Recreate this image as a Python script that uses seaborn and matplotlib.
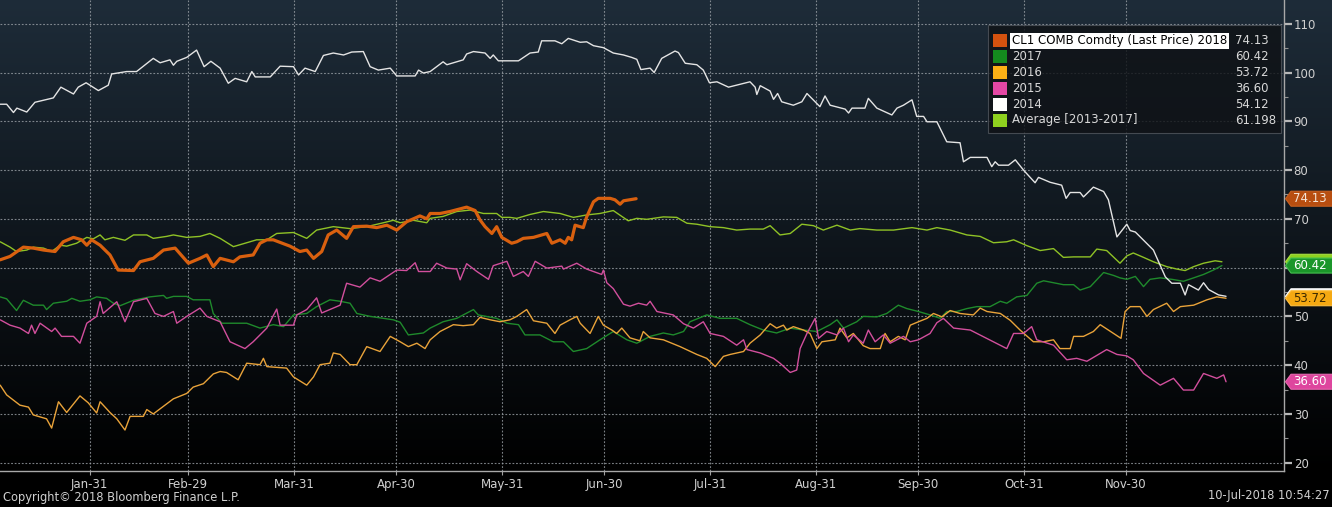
import numpy as np
import pandas as pd
import matplotlib
matplotlib.use("Agg")
import matplotlib.pyplot as plt
import matplotlib.dates as mdates
from matplotlib.ticker import MultipleLocator
from matplotlib.patches import Rectangle, Polygon
from matplotlib.transforms import blended_transform_factory
import seaborn as sns

# ---------------- data (day of year, leap-year calendar; price) ----------------
days_2018 = [4.8, 7.7, 11.6, 14.5, 17.5, 20.9, 23.3, 26.3, 28.7, 30.2, 31.6, 34.1, 37.0, 39.4, 43.9,
             45.8, 49.7, 52.7, 56.1, 60.0, 63.4, 65.4, 67.3, 69.3, 73.2, 75.1, 79.0, 81.0, 83.0, 84.9,
             87.9, 89.8, 92.7, 94.7, 96.7, 99.1, 101.0, 103.5, 106.4, 108.4, 112.3, 115.2, 118.2, 121.1,
             124.0, 127.9, 129.9, 130.9, 133.8, 136.7, 141.6, 144.1, 145.5, 147.0, 149.0, 150.4, 151.9,
             154.8, 156.3, 158.2, 161.2, 165.1, 166.6, 169.0, 170.5, 171.4, 172.4, 173.4, 175.8, 176.8,
             178.8, 180.2, 183.7, 185.1, 186.6, 187.6, 191.3]
vals_2018 = [61.6, 62.3, 64.2, 64.0, 63.6, 63.3, 65.3, 66.2, 65.7, 64.6, 65.7, 64.6, 62.6, 59.5, 59.4,
             61.2, 61.9, 63.6, 64.0, 60.9, 61.9, 62.6, 60.2, 61.9, 61.2, 62.2, 62.6, 65.0, 65.7, 65.7,
             64.9, 64.4, 63.3, 63.6, 61.9, 63.3, 66.7, 67.7, 66.0, 68.4, 68.5, 68.2, 68.7, 67.7,
             69.4, 70.6, 70.0, 71.1, 71.1, 71.5, 72.4, 71.7, 69.8, 68.4, 67.0, 68.4, 66.2,
             65.0, 65.3, 66.0, 66.2, 67.0, 65.0, 65.7, 65.0, 66.2, 65.7, 68.7, 68.2, 70.4,
             73.5, 74.2, 74.2, 73.9, 73.0, 73.7, 74.13]

days_2017 = [4.8, 6.7, 9.6, 11.6, 14.5, 17.5, 18.4, 20.4, 24.3, 25.8, 28.2, 31.1, 33.1, 36.0, 38.0,
             40.0, 43.9, 48.7, 52.7, 53.6, 55.6, 59.5, 61.4, 66.3, 67.3, 69.8, 73.2, 77.1, 81.0, 84.9,
             87.9, 90.8, 94.7, 97.6, 101.5, 104.5, 107.4, 109.4, 113.3, 117.2, 120.1, 122.1, 124.5, 128.9,
             130.9, 134.7, 138.7, 140.6, 143.6, 145.0, 150.4, 153.4, 156.8, 158.7, 163.1, 167.0, 170.0,
             172.9, 176.8, 180.7, 184.6, 188.6, 191.5, 195.4, 199.3, 202.2, 205.2, 207.1, 212.0, 215.9,
             220.8, 224.7, 228.6, 232.5, 236.5, 240.4, 244.3, 248.2, 250.2, 252.1, 256.0,
             257.9, 261.9, 264.8, 268.2, 270.7, 274.1, 277.5, 280.5, 282.4, 285.3, 288.3, 291.2, 295.1,
             298.1, 300.0, 302.9, 305.9, 308.8, 310.8, 313.7, 316.6, 319.6, 321.5, 324.5, 328.4, 331.3,
             333.2, 335.2, 337.7, 340.1, 342.0, 345.0, 348.4, 351.8, 354.8, 357.7, 360.6, 363.1]
vals_2017 = [54.0, 53.6, 51.2, 53.3, 52.3, 52.3, 51.4, 52.7, 53.1, 53.7, 53.1, 53.4, 54.0, 53.7, 52.7,
             52.2, 53.3, 54.0, 54.3, 53.7, 54.1, 54.1, 53.4, 53.4, 50.6, 48.6, 48.6, 48.6, 47.6, 48.3,
             47.9, 50.3, 50.6, 52.0, 53.4, 53.1, 52.7, 50.6, 50.0, 49.6, 49.3, 48.8, 46.2, 46.6,
             47.6, 48.9, 49.6, 50.3, 51.4, 50.3, 49.6, 48.6, 48.3, 46.2, 46.2, 44.8, 44.8,
             42.8, 43.4, 45.2, 46.9, 45.2, 44.5, 45.9, 46.6, 46.2, 46.9, 48.9, 50.3, 49.6,
             49.6, 48.3, 47.2, 46.6, 47.6, 47.2, 46.9, 48.3, 49.3, 47.6, 48.9,
             50.0, 49.9, 50.6, 52.3, 51.6, 51.0, 50.3, 49.6, 51.0, 51.0, 51.6, 52.0, 52.0,
             53.1, 52.7, 54.0, 54.3, 56.8, 57.3, 56.9, 56.5, 56.5, 55.4, 56.1, 59.0, 58.4,
             57.9, 57.6, 58.2, 56.1, 57.6, 57.9, 57.6, 57.2, 57.9, 58.6, 59.5, 60.42]

days_2016 = [4.8, 6.7, 10.6, 13.1, 14.5, 18.4, 19.9, 21.9, 24.3, 28.2, 30.6, 33.1, 34.1, 37.0, 39.0,
             41.4, 42.9, 46.8, 47.8, 49.7, 55.6, 59.5, 61.4, 64.4, 67.3, 69.3, 71.2, 74.6, 77.1, 81.0,
             82.0, 83.0, 88.8, 90.8, 94.7, 96.7, 98.6, 101.5, 102.5, 104.5, 107.4, 109.4, 112.3, 116.2,
             119.2, 122.1, 124.5, 127.0, 129.4,
             130.9, 133.8, 137.7, 140.6, 143.6, 145.5, 148.5, 151.4, 154.3, 156.3, 159.2, 161.2, 165.1,
             167.5, 169.0, 171.9, 173.9, 174.9, 177.8, 180.2, 181.7, 184.2, 185.6, 187.1, 189.5, 192.4,
             193.4, 195.4, 199.3, 204.2, 209.1, 212.0, 214.5, 216.9, 218.9, 222.8, 224.7, 227.7, 230.6,
             232.5, 234.5, 235.5, 237.4, 240.4, 242.3, 244.3, 245.8, 249.7, 251.1, 253.1, 255.0,
             257.9, 259.9, 262.9, 264.3, 265.8, 268.2, 270.2, 271.7, 274.1, 276.6, 278.5, 281.0, 283.4,
             286.3, 290.2, 292.2, 294.2, 298.1, 301.0, 303.9, 307.8, 310.8, 313.7, 315.6, 318.6, 319.6,
             322.5, 325.4, 327.4, 331.3, 333.5, 334.7, 336.2, 339.1, 341.1, 343.0, 346.9, 348.9, 350.9,
             354.8, 358.7, 361.6, 364.3]
vals_2016 = [35.9, 33.9, 31.8, 31.4, 29.8, 29.0, 27.1, 32.5, 30.3, 33.7, 32.3, 30.2, 32.5, 30.3, 29.0,
             26.7, 29.5, 29.5, 30.9, 30.0, 33.1, 34.2, 35.5, 36.2, 38.2, 38.7, 38.5, 37.0, 40.4, 40.1,
             41.4, 39.7, 39.4, 37.6, 35.9, 37.6, 40.1, 40.4, 42.5, 42.2, 40.1, 40.1, 43.8, 42.8,
             45.9, 44.8, 43.8, 44.5, 43.4,
             45.2, 46.9, 48.3, 48.1, 48.3, 49.8, 49.3, 48.9, 49.3, 50.0, 51.4, 49.1, 48.6,
             46.5, 48.2, 49.3, 50.0, 48.6, 46.5, 50.0, 48.2, 47.2, 46.5, 47.6, 45.6, 45.0,
             46.9, 45.6, 45.2, 43.8, 42.2, 41.4, 39.7, 41.8, 42.2, 42.8, 44.5, 46.2, 48.5,
             47.6, 48.2, 47.2, 47.9, 47.2, 46.5, 43.4, 44.8, 45.2, 47.6, 45.6, 46.5,
             44.0, 43.4, 43.4, 46.5, 44.8, 45.9, 45.2, 48.2, 48.9, 49.6, 50.6, 49.9, 51.2,
             50.6, 50.3, 51.7, 51.0, 50.6, 49.2, 47.2, 44.8, 44.8, 45.2, 43.4, 43.4, 45.9,
             45.9, 46.9, 48.3, 46.5, 45.5, 51.0, 52.0, 52.0, 50.0, 51.4, 52.7, 51.0, 52.0,
             52.3, 53.4, 54.0, 53.72]

days_2015 = [4.8, 7.7, 10.6, 13.1, 14.0, 15.0, 16.5, 19.9, 20.9, 22.8, 26.3, 28.2, 30.2, 33.1, 34.1,
             35.0, 39.0, 41.4, 43.9, 47.8, 50.2, 52.7, 55.6, 56.6, 59.5, 63.4, 65.4, 69.3, 72.2, 76.6,
             79.0, 83.0, 85.9, 86.9, 90.8, 91.8, 94.7, 97.6, 99.1, 104.5, 106.4, 110.3, 113.3, 116.2,
             121.1, 124.0, 126.5, 127.5,
             130.9, 132.8, 135.8, 138.7, 139.7, 141.6, 144.6, 148.0, 149.4, 153.4, 155.3, 158.2, 159.7,
             161.7, 165.1, 169.5, 170.0, 173.9, 176.8, 181.2, 181.7, 182.7, 184.6, 187.6, 189.5, 192.0,
             194.4, 195.4, 197.4, 202.2, 205.2, 208.1, 211.0, 213.0, 216.9, 220.8, 222.8, 223.8, 227.7,
             231.6, 233.5, 236.5, 238.4, 239.4, 241.4, 243.8, 244.8, 247.2, 250.2, 252.1, 253.6, 255.0,
             257.9, 259.4, 261.4, 263.8, 265.8, 269.7, 271.7, 274.1, 277.5, 279.5, 281.4, 284.4, 289.3,
             296.1, 300.0, 302.0, 304.9, 307.3, 308.8, 313.7, 317.6, 320.5, 323.5, 329.3, 332.3, 335.2,
             337.1, 340.1, 345.0, 348.9, 351.8, 354.8, 357.7, 361.6, 363.6, 364.3]
vals_2015 = [49.3, 48.2, 47.6, 46.5, 48.2, 46.5, 48.6, 46.9, 47.6, 45.9, 45.9, 44.5, 48.6, 50.0, 53.0,
             50.6, 53.0, 48.9, 53.0, 53.7, 50.6, 50.0, 51.0, 48.6, 50.0, 51.7, 50.0, 48.9, 44.8, 43.4,
             44.8, 47.6, 51.5, 48.2, 48.2, 50.3, 51.4, 53.8, 50.7, 52.3, 56.8, 56.0, 57.9, 57.2,
             59.5, 59.4, 61.0, 59.2,
             59.2, 60.9, 59.9, 59.7, 57.5, 60.8, 59.2, 57.6, 60.4, 61.3, 58.2, 59.2, 58.2,
             61.3, 59.9, 60.3, 59.7, 60.9, 59.7, 58.6, 59.5, 56.9, 55.7, 52.5, 52.1, 52.7,
             52.3, 53.1, 51.0, 50.3, 48.5, 47.6, 48.9, 46.5, 45.9, 44.1, 45.2, 43.2, 42.5,
             41.4, 40.4, 38.5, 39.0, 43.4, 46.5, 49.6, 45.5, 46.9, 46.2, 47.6, 44.8, 46.2,
             44.5, 47.2, 44.8, 46.2, 44.5, 45.9, 44.8, 45.2, 46.5, 48.7, 49.6, 47.6, 47.2,
             44.8, 43.4, 46.5, 46.5, 47.9, 45.2, 44.1, 41.1, 41.4, 40.8, 43.2, 42.2, 41.9,
             41.1, 38.3, 35.9, 37.3, 34.9, 34.9, 38.3, 37.3, 38.0, 36.6]

days_2014 = [4.8, 6.7, 8.7, 9.7, 12.6, 15.0, 20.4, 22.6, 26.3, 27.7, 30.0, 33.6, 36.5, 37.5, 41.9,
             44.8, 49.7, 51.7, 54.6, 55.6, 56.6, 59.5, 62.4, 64.6, 66.6, 69.3, 71.7, 73.7, 77.1, 78.6,
             79.6, 84.0, 86.9, 90.8, 92.3, 94.2, 97.2, 99.6, 102.5, 105.5, 107.9, 111.3, 113.3, 115.7,
             119.2, 121.1, 126.5, 127.5, 128.9,
             130.9, 134.7, 135.8, 140.6, 141.6, 143.6, 147.0, 148.5, 149.4, 150.9, 156.8, 160.2, 162.6,
             163.6, 167.5, 169.5, 171.4, 174.9, 176.8, 178.8, 181.7, 184.6, 187.6, 190.0, 191.5, 192.7,
             195.4, 196.6, 198.8, 202.7, 203.7, 205.7, 209.1, 211.0, 212.8, 215.0, 218.4, 224.7, 226.2,
             226.7, 227.7, 230.6, 231.6, 232.8, 234.0, 237.4, 239.9, 241.4, 245.2, 246.7, 248.2, 252.6,
             253.6, 254.6,
             256.9, 258.4, 259.4, 261.9, 266.3, 267.8, 269.7, 272.2, 273.6, 275.6, 276.6, 279.5, 282.4,
             286.3, 287.3, 289.3, 294.2, 295.6, 296.6, 297.6, 300.5, 302.5, 304.9, 308.3, 309.3, 312.7,
             316.1, 317.4, 318.6, 321.5, 322.5, 325.4, 328.4, 329.8, 332.3, 335.2, 336.2, 337.7, 343.0,
             346.5, 348.4, 350.9, 352.3, 353.3, 356.2, 357.7, 359.2, 362.1, 364.3]
vals_2014 = [93.5, 93.5, 91.8, 92.7, 91.9, 93.9, 94.8, 97.0, 95.6, 97.0, 97.9, 96.3, 97.4, 99.7, 100.2,
             100.2, 102.9, 102.0, 102.6, 101.5, 102.3, 103.1, 104.6, 101.2, 102.3, 100.9, 97.8, 98.8, 98.1, 100.2,
             99.1, 99.1, 101.3, 101.2, 99.5, 100.9, 100.2, 103.5, 104.0, 103.6, 104.2, 104.3, 101.2, 100.5,
             100.9, 99.3, 99.3, 100.5, 99.9,
             100.2, 102.2, 101.6, 102.6, 103.8, 104.3, 104.0, 102.9, 103.6, 102.4, 102.4, 104.0, 104.2,
             106.5, 106.5, 105.9, 107.0, 106.2, 106.3, 105.5, 105.1, 104.0, 103.6, 103.1, 102.7, 100.6,
             100.9, 100.0, 102.9, 104.4, 104.1, 101.9, 101.6, 100.5, 97.9, 98.1, 97.0, 98.1, 97.0,
             95.5, 97.3, 96.2, 94.5, 95.7, 94.0, 93.3, 94.0, 95.7, 93.0, 95.2, 93.3, 92.5,
             91.7, 92.7,
             92.7, 92.7, 94.7, 92.7, 91.3, 92.7, 93.3, 94.4, 91.0, 91.0, 89.9, 89.9, 85.8,
             85.6, 81.7, 82.6, 82.6, 80.7, 81.7, 81.0, 81.0, 82.1, 80.0, 77.4, 78.5, 77.5,
             76.9, 74.2, 75.4, 75.4, 74.5, 76.5, 75.6, 73.9, 66.3, 68.9, 67.6, 67.3, 63.6,
             58.1, 56.8, 56.8, 54.4, 56.5, 55.4, 56.9, 55.5, 54.4, 54.12]

days_avg = [4.8, 7.7, 9.6, 12.6, 14.5, 17.5, 19.9, 22.4, 24.3, 27.2, 30.2, 32.1, 34.1, 35.5, 38.0,
            41.4, 43.9, 47.8, 49.7, 53.6, 55.6, 59.5, 63.4, 66.3, 69.3, 73.2, 77.1, 80.0, 83.0, 85.9,
            90.8, 94.7, 97.6, 102.5, 107.4, 112.3, 117.2, 120.1, 122.1, 126.0, 129.9,
            130.9, 134.7, 138.7, 142.6, 146.5, 150.4, 151.9, 154.3, 156.3, 160.2, 164.1, 169.0, 172.9,
            176.8, 180.7, 184.6, 187.1, 189.0, 191.5, 194.4, 199.3, 203.2, 206.2, 209.1, 213.0, 216.9,
            220.8, 224.7, 228.6, 230.6, 233.5, 236.5, 239.9, 243.3, 246.2, 250.2, 254.1,
            256.9, 261.9, 266.8, 272.2, 276.6, 279.5, 283.4, 288.3, 292.2, 296.1, 300.0, 302.0, 305.9,
            309.8, 313.7, 316.6, 319.6, 324.5, 326.4, 329.3, 333.2, 335.2, 337.1, 340.1, 343.0, 346.9,
            349.9, 352.3, 354.8, 357.7, 361.1, 363.1]
vals_avg = [65.3, 64.2, 63.3, 63.6, 64.2, 64.0, 63.3, 64.6, 64.4, 65.0, 66.2, 65.9, 66.7, 65.7, 66.2,
            65.6, 66.7, 66.7, 66.0, 66.4, 66.7, 66.2, 66.4, 67.0, 66.0, 64.3, 65.1, 65.7, 65.7, 67.0,
            67.2, 66.0, 67.7, 68.4, 68.0, 68.4, 69.2, 69.7, 69.2, 69.7, 69.2,
            70.1, 70.5, 71.5, 71.8, 71.1, 71.1, 70.3, 70.3, 70.1, 70.9, 71.5, 71.1, 70.3,
            70.8, 71.1, 71.7, 70.5, 69.6, 70.1, 69.9, 70.4, 70.3, 69.1, 68.9, 68.4, 68.2,
            67.7, 67.9, 67.9, 68.6, 66.7, 67.0, 68.9, 68.6, 67.7, 68.7, 67.7,
            68.0, 67.7, 67.7, 68.2, 67.7, 68.2, 67.7, 66.7, 66.4, 65.1, 65.3, 65.7, 64.5,
            63.5, 63.9, 62.1, 62.2, 62.2, 63.8, 63.5, 60.9, 62.4, 63.0, 62.1, 61.2, 60.2,
            59.7, 59.4, 60.2, 60.9, 61.4, 61.198]

legend_labels = ["CL1 COMB Comdty (Last Price) 2018", "2017", "2016", "2015", "2014",
                 "Average [2013-2017]"]
last_values = ["74.13", "60.42", "53.72", "36.60", "54.12", "61.198"]
last_numbers = [74.13, 60.42, 53.72, 36.60, 54.12, 61.198]
month_ticks = ["2016-01-31", "2016-02-29", "2016-03-31", "2016-04-30", "2016-05-31", "2016-06-30",
               "2016-07-31", "2016-08-31", "2016-09-30", "2016-10-31", "2016-11-30"]
y_ticks = [20, 30, 40, 50, 60, 70, 80, 90, 100, 110]
# the "60" label is covered by the 2017 value tag in the original
y_tick_labels = ["20", "30", "40", "50", "", "70", "80", "90", "100", "110"]

# ---------------- styling ----------------
line_colors = ["#d9600f", "#1f8a2c", "#e9a33a", "#d24f9d", "#e4e4e4", "#8fc226"]
square_colors = ["#d4520f", "#148a1e", "#fbb016", "#e447a5", "#ffffff", "#8fd11f"]
line_widths = [2.3, 1.0, 1.0, 1.0, 1.0, 1.0]
z_orders = [6, 3, 3, 3, 5, 4]

sns.set_theme(style="dark")
plt.rcParams["font.family"] = ["DejaVu Sans"]

W, H = 1332, 507
fig = plt.figure(figsize=(W / 100, H / 100), dpi=100, facecolor="black")

# background gradient
bg = fig.add_axes([0, 0, 1, 1], zorder=-10)
bg.set_axis_off()
rows = np.arange(H)
t = np.clip(rows / 471.0, 0, 1)
top = np.array([30, 44, 57]) / 255.0
grad = (1 - t)[:, None] * top[None, :]
grad = np.repeat(grad[:, None, :], 2, axis=1)
bg.imshow(grad, aspect="auto", extent=[0, 1, 0, 1], origin="upper", interpolation="bilinear")
bg.set_xlim(0, 1)
bg.set_ylim(0, 1)

ax = fig.add_axes([0, 36 / H, 1284 / W, 471 / H])
ax.set_facecolor("none")

base = pd.Timestamp("2016-01-01")


def to_dates(days):
    return base + pd.to_timedelta(np.asarray(days) - 1.0, unit="D")


series = [(days_2018, vals_2018), (days_2017, vals_2017), (days_2016, vals_2016),
          (days_2015, vals_2015), (days_2014, vals_2014), (days_avg, vals_avg)]
for i, (dd, vv) in enumerate(series):
    n = min(len(dd), len(vv))
    df = pd.DataFrame({"date": to_dates(dd[:n]), "value": vv[:n]})
    sns.lineplot(data=df, x="date", y="value", ax=ax, color=line_colors[i],
                 linewidth=line_widths[i], zorder=z_orders[i], legend=False,
                 estimator=None, sort=False)

ax.set_xlim(base + pd.Timedelta(days=3.75), base + pd.Timedelta(days=380.3))
ax.set_ylim(18.3, 114.87)
ax.set_xlabel("")
ax.set_ylabel("")

ax.set_xticks(pd.to_datetime(month_ticks))
ax.xaxis.set_major_formatter(mdates.DateFormatter("%b-%d"))
ax.set_yticks(y_ticks)
ax.set_yticklabels(y_tick_labels)
ax.yaxis.set_minor_locator(MultipleLocator(5))
ax.yaxis.tick_right()

ax.grid(True, which="major", color="#9aa0a6", linestyle=(0, (1.6, 1.6)), linewidth=0.8, alpha=0.8)
ax.set_axisbelow(True)

for side in ["left", "top"]:
    ax.spines[side].set_visible(False)
for side in ["right", "bottom"]:
    ax.spines[side].set_visible(True)
    ax.spines[side].set_color("#a8a8a8")
    ax.spines[side].set_linewidth(1.0)

ax.tick_params(axis="y", which="major", direction="out", length=6, width=1.6,
               colors="#b8b8b8", labelcolor="#d0d0d0", labelsize=8.5, pad=1, right=True, left=False)
ax.tick_params(axis="y", which="minor", direction="out", length=3, width=0.8,
               colors="#909090", right=True, left=False)
ax.tick_params(axis="x", which="major", direction="out", length=3, width=0.8,
               colors="#a0a0a0", labelcolor="#d0d0d0", labelsize=8.5, pad=2, bottom=True)

# right-side value tags (last values); stacked so later tags cover earlier ones
trans = blended_transform_factory(ax.transAxes, ax.transData)
px_x = 1.0 / 1284.0
half_h = 7.5 / 4.877


def tag(value, face, edge, txtcolor, label, z):
    x0 = 1.0 + 1.5 * px_x
    x1 = 1.0 + 7 * px_x
    x2 = 1.0 + 49 * px_x
    pts = [(x0, value), (x1, value + half_h), (x2, value + half_h), (x2, value - half_h),
           (x1, value - half_h)]
    poly = Polygon(pts, closed=True, transform=trans, facecolor=face, edgecolor=edge,
                   linewidth=0.8, clip_on=False, zorder=z)
    ax.add_patch(poly)
    if label:
        ax.text(1.0 + 9 * px_x, value, label, transform=trans, color=txtcolor, fontsize=8.5,
                va="center", ha="left", clip_on=False, zorder=z + 0.5)


# 2014 and average tags sit underneath the 2016 and 2017 tags (only their edges show)
tag(last_numbers[4], "#f2f2f2", "#ffffff", "#202020", None, 20)
tag(last_numbers[2], "#f5a912", "#ffc040", "#3a2800", last_values[2], 21)
tag(last_numbers[5], "#8fd11f", "#a8e040", "#ffffff", None, 22)
tag(last_numbers[1], "#1b962a", "#45c050", "#ffffff", last_values[1], 23)
tag(last_numbers[0], "#b84e10", "#c86020", "#f5e6d8", last_values[0], 24)
tag(last_numbers[3], "#de469e", "#e868b0", "#ffffff", last_values[3], 25)

# legend box (drawn manually in axes coordinates)
ax_w, ax_h = 1284.0, 471.0


def ax_xy(px, py):
    return px / ax_w, (ax_h - py) / ax_h


lx0, ly1 = ax_xy(988, 25)
lx1, ly0 = ax_xy(1281, 133)
ax.add_patch(Rectangle((lx0, ly0), lx1 - lx0, ly1 - ly0, transform=ax.transAxes,
                       facecolor="#0f1216", edgecolor="#50555c", linewidth=0.8, alpha=0.82,
                       zorder=10))
row_y = [40.7, 56.6, 72.5, 88.3, 104.1, 120.0]
for i, lab in enumerate(legend_labels):
    sx, sy = ax_xy(993, row_y[i] + 6.5)
    ax.add_patch(Rectangle((sx, sy), 14 / ax_w, 13 / ax_h, transform=ax.transAxes,
                           facecolor=square_colors[i], edgecolor="none", zorder=11))
    tx, ty = ax_xy(1012, row_y[i])
    if i == 0:
        ax.text(tx, ty, lab, transform=ax.transAxes, fontsize=8.5, color="black", va="center",
                ha="left", zorder=12,
                bbox=dict(facecolor="white", edgecolor="none", pad=1.2))
    else:
        ax.text(tx, ty, lab, transform=ax.transAxes, fontsize=8.5, color="#d8d8d8", va="center",
                ha="left", zorder=12)
    vx, vy = ax_xy(1235, row_y[i])
    ax.text(vx, vy, last_values[i], transform=ax.transAxes, fontsize=8.5, color="#d8d8d8",
            va="center", ha="left", zorder=12)

# footer
fig.text(3 / W, 1 - 497 / H, "Copyright\u00a9 2018 Bloomberg Finance L.P.", color="#d0d0d0",
         fontsize=8.3, va="center", ha="left")
fig.text(1330 / W, 1 - 496 / H, "10-Jul-2018 10:54:27", color="#d0d0d0", fontsize=8.3,
         va="center", ha="right")

fig.savefig("out.png", dpi=100, facecolor="black")
